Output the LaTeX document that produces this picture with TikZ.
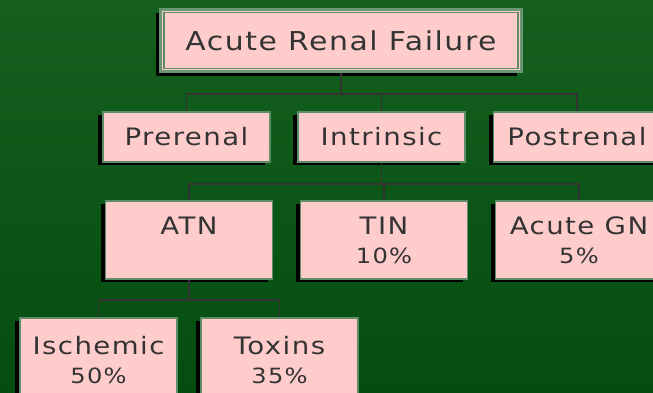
\documentclass[tikz,border=0pt]{standalone}
\usepackage{fontspec}
\newfontfamily\chartfont[FakeStretch=1.15, LetterSpace=6]{DejaVu Sans}
\usetikzlibrary{shadows}

\definecolor{bgtop}{RGB}{21,96,31}
\definecolor{bgbottom}{RGB}{3,77,15}
\definecolor{boxpink}{RGB}{255,204,204}
\definecolor{boxedge}{RGB}{95,140,105}
\definecolor{titleedge}{RGB}{105,150,115}
\definecolor{inkgray}{RGB}{51,51,51}

\newcommand{\share}[1]{{\fontsize{21}{29}\selectfont #1}}

\begin{document}
\begin{tikzpicture}[
    x=1pt, y=-1pt,
    unit/.style={
      draw=boxedge,
      line width=1.5pt,
      fill=boxpink,
      text=inkgray,
      align=center,
      inner sep=0pt,
      font=\chartfont\fontsize{24}{29}\selectfont,
      drop shadow={shadow xshift=-5pt, shadow yshift=-3pt, fill=black, opacity=1}
    },
    tier1/.style={unit, minimum width=167pt, minimum height=50pt},
    tier2/.style={unit, minimum width=167pt, minimum height=78pt},
    tier3/.style={unit, minimum width=157pt, minimum height=84pt},
    link/.style={draw=inkgray, line width=1.6pt}
  ]
    % background
    \useasboundingbox (0,0) rectangle (653,392);
    \clip (0,0) rectangle (653,392);
    \shade[top color=bgtop, bottom color=bgbottom] (0,0) rectangle (653,392);

    % title box with double frame
    \node[unit, draw=titleedge, line width=3pt, minimum width=361pt, minimum height=62pt,
      font=\chartfont\fontsize{26}{30}\selectfont,
      drop shadow={shadow xshift=-5pt, shadow yshift=-4pt, fill=black, opacity=1}]
      (arf) at (341,40.5) {Acute Renal Failure};
    \draw[boxedge, line width=1.5pt] ([shift={(5,4.5)}]arf.north west) rectangle ([shift={(-5,-4.5)}]arf.south east);

    % first level
    \node[tier1] (pre) at (186.5,137) {Prerenal};
    \node[tier1] (intr) at (381.5,137) {Intrinsic};
    \node[tier1] (post) at (577,137) {Postrenal};

    % second level
    \node[tier2] (atn) at (189,240) {ATN\\\mbox{}};
    \node[tier2] (tin) at (384,240) {TIN\\\share{10\%}};
    \node[tier2] (agn) at (579,240) {Acute GN\\\share{5\%}};

    % third level
    \node[tier3] (isch) at (98.5,360) {Ischemic\\\share{50\%}};
    \node[tier3] (tox) at (279.5,360) {Toxins\\\share{35\%}};

    % connectors
    \draw[link] (arf.south) -- ++(0,21) -| (pre.north);
    \draw[link] (arf.south) -- ++(0,21) -| (intr.north);
    \draw[link] (arf.south) -- ++(0,21) -| (post.north);
    \draw[link] (intr.south) -- ++(0,21) -| (atn.north);
    \draw[link] (intr.south) -- ++(0,21) -| (tin.north);
    \draw[link] (intr.south) -- ++(0,21) -| (agn.north);
    \draw[link] (atn.south) -- ++(0,20) -| (isch.north);
    \draw[link] (atn.south) -- ++(0,20) -| (tox.north);
  \end{tikzpicture}
\end{document}
